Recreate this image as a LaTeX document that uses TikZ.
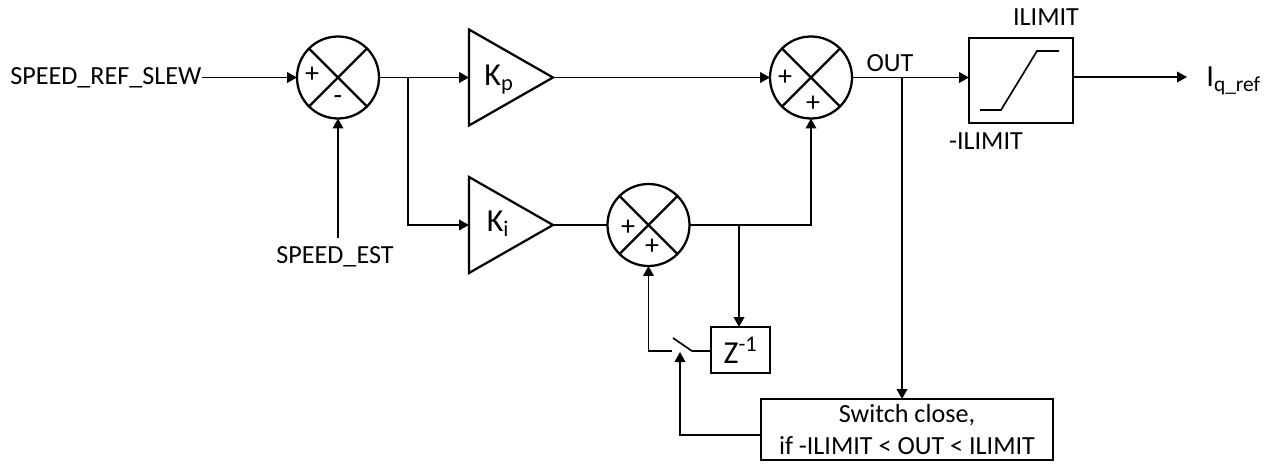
\documentclass[tikz,border=0pt]{standalone}
\usepackage{fontspec}
\setmainfont{Carlito}
\usepackage{tikz}
\usetikzlibrary{arrows.meta,shapes.geometric}
\tikzset{
  sumnode/.style={draw,circle,line width=1.7pt,minimum size=61.5pt,inner sep=0pt,outer sep=0pt},
  gainnode/.style={draw,isosceles triangle,isosceles triangle apex angle=59.5,isosceles triangle stretches,
    line width=1.7pt,minimum width=72pt,minimum height=63pt,inner sep=0pt,outer sep=0pt,anchor=lower side},
  boxnode/.style={draw,rectangle,line width=1.25pt,inner sep=0pt,outer sep=0pt},
  sign/.style={inner sep=0pt,font=\fontsize{21}{21}\selectfont},
  wire/.style={line width=1.25pt},
  arrow/.style={wire,-{Triangle[length=7.5pt,width=8pt]}},
  biglabel/.style={font=\fontsize{24}{24}\selectfont},
}
\begin{document}
\begin{tikzpicture}[x=.75pt,y=-.75pt,font=\fontsize{19.6}{24}\selectfont]
  \useasboundingbox (0,0) rectangle (1270,470);
  % summing junctions
  \node[sumnode] (sumA) at (338,77.5) {};
  \node[sumnode] (sumB) at (811,77.5) {};
  \node[sumnode] (sumC) at (648.5,225) {};
  \foreach \s in {sumA,sumB,sumC} {
    \draw[line width=1.7pt] (\s.45) -- (\s.225);
    \draw[line width=1.7pt] (\s.135) -- (\s.315);
  }
  \node[sign] (plusA) at (312,75) {+}; \node[sign] (minusA) at (338,100) {-};
  \node[sign] (plusB) at (785,78) {+}; \node[sign] (plusBb) at (813,104) {+};
  \node[sign] (plusC) at (628,228) {+}; \node[sign] (plusCb) at (652,247) {+};
  % gains
  \node[gainnode] (gainP) at (469,77.5) {}; \node[biglabel] (labelP) at (499,80) {K\textsubscript{p}};
  \node[gainnode] (gainI) at (469,225) {}; \node[biglabel] (labelI) at (498,224) {K\textsubscript{i}};
  % boxes
  \node[boxnode,minimum width=78pt,minimum height=63.75pt] (limit) at (1021,80.5) {};
  \draw[wire] (980,110) -- (1001,110) -- (1037,51) -- (1059,51);
  \node[boxnode,minimum width=44.25pt,minimum height=34.5pt,biglabel] (delay) at (740.5,350) {Z\textsuperscript{-1}};
  \node[boxnode,minimum width=219pt,minimum height=45.75pt,align=center] (closing) at (907,429.5) {Switch close,\\if -ILIMIT < OUT < ILIMIT};
  % texts
  \node[inner sep=0pt,anchor=west] (speedref) at (10,78) {SPEED\_REF\_SLEW};
  \node[inner sep=0pt] (speedest) at (335,257) {SPEED\_EST};
  \node[inner sep=0pt] (outlabel) at (890,63) {OUT};
  \node[inner sep=0pt] (uplimit) at (1046,17) {ILIMIT};
  \node[inner sep=0pt] (lowlimit) at (986,141) {-ILIMIT};
  \node[inner sep=0pt,anchor=west,font=\fontsize{23}{23}\selectfont] (iqref) at (1206,81) {I\textsubscript{q\_ref}};
  % helper points
  \coordinate (branchA) at (408,77.5);
  \coordinate (branchB) at (739,225);
  \coordinate (branchC) at (902,77.5);
  \coordinate (swLeft) at (672,351);
  \coordinate (swTop) at (673,338);
  \coordinate (swRight) at (692,351);
  \coordinate (swCtrl) at (680,352);
  \coordinate (estTop) at (338,238);
  \coordinate (outEnd) at (1187,77);
  % connectors
  \draw[arrow] (speedref.east |- sumA) -- (sumA.west);
  \draw[arrow] (estTop) -- (sumA.south);
  \draw[arrow] (sumA.east) -- (gainP.lower side);
  \draw[arrow] (gainP.apex) -- (sumB.west);
  \draw[arrow] (branchA) -- (branchA |- gainI) -- (gainI.lower side);
  \draw[wire] (gainI.apex) -- (sumC.west);
  \draw[arrow] (sumC.east) -- (sumC.east -| sumB) -- (sumB.south);
  \draw[arrow] (branchB) -- (delay.north -| branchB);
  \draw[arrow] (sumB.east) -- (limit.west |- sumB);
  \draw[arrow] (branchC) -- (closing.north -| branchC);
  \draw[arrow] (limit.east |- outEnd) -- (outEnd);
  \draw[wire] (delay.west |- swRight) -- (swRight) -- (swTop);
  \draw[arrow] (swLeft) -- (swLeft -| sumC) -- (sumC.south);
  \draw[arrow] (closing.west |- 0,435) -- (swCtrl |- 0,435) -- (swCtrl);
\end{tikzpicture}
\end{document}
